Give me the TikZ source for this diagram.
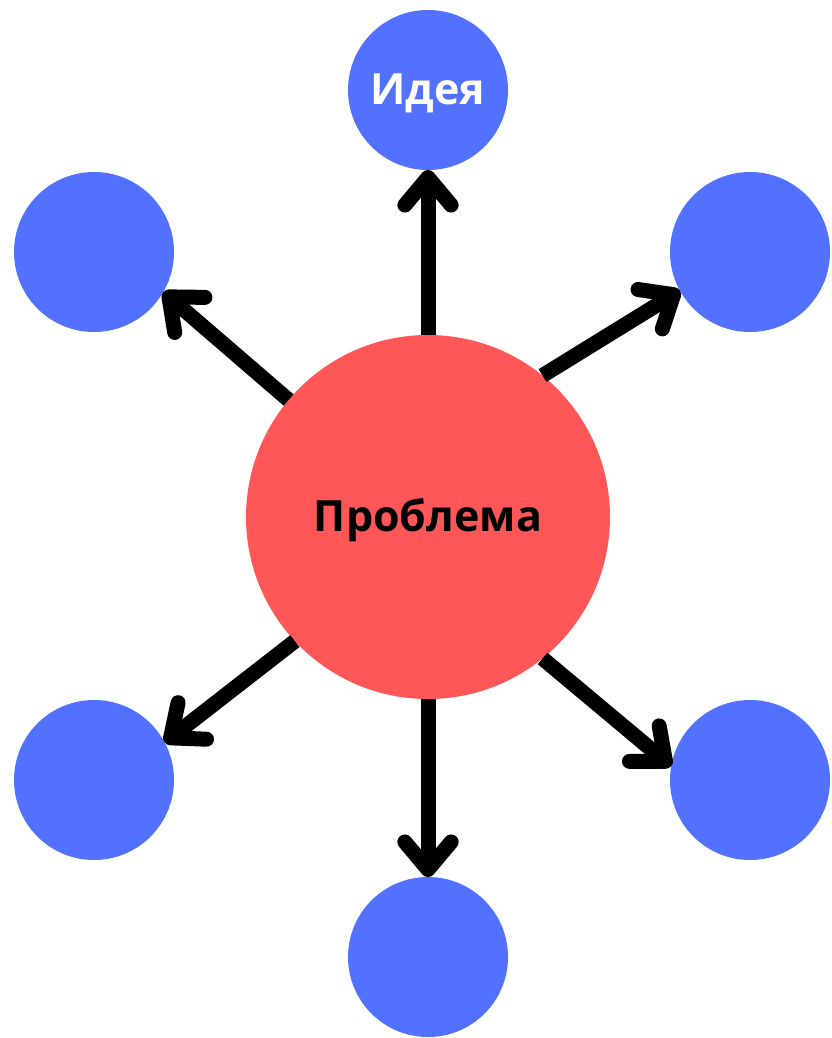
\documentclass[tikz,border=0pt]{standalone}
\usepackage{fontspec}
\setmainfont{Open Sans}
\usetikzlibrary{calc}
\definecolor{cblue}{HTML}{5271FF}
\definecolor{cred}{HTML}{FF5757}
\tikzset{
  bluecirc/.style={circle,fill=cblue,minimum size=160pt,inner sep=0pt,outer sep=0pt},
  redcirc/.style={circle,fill=cred,minimum size=364pt,inner sep=0pt,outer sep=0pt},
  shaft/.style={line width=15pt,black,line cap=butt},
  barb/.style={line width=15pt,black,line cap=round,line join=round},
  lbl/.style={font=\fontsize{43}{47}\selectfont\bfseries}
}
\newcommand\myarrow[2]{%
  \draw[shaft] (#1) -- ($(#2)!7.5pt!(#1)$);
  \draw[barb] ($($(#2)!7.5pt!(#1)$)!36pt!40:(#1)$) -- ($(#2)!7.5pt!(#1)$) -- ($($(#2)!7.5pt!(#1)$)!36pt!-40:(#1)$);
}
\begin{document}
\begin{tikzpicture}[x=1pt,y=-1pt]
\useasboundingbox[fill=white] (0,0) rectangle (831,1038);
\node[redcirc] (P) at (428,517) {};
\node[bluecirc] (B1) at (428,90) {};
\node[bluecirc] (B2) at (94,252) {};
\node[bluecirc] (B3) at (750,252) {};
\node[bluecirc] (B4) at (94,780) {};
\node[bluecirc] (B5) at (750,780) {};
\node[bluecirc] (B6) at (428,957) {};
\node[lbl,text=white] (t1) at (428,93) {Идея};
\node[lbl,text=black] (t2) at (428,520) {Проблема};
\myarrow{P.90}{B1.270}
\myarrow{P.140}{B2.330}
\myarrow{P.51}{B3.209}
\myarrow{P.223}{B4.28}
\myarrow{P.309}{B5.170}
\myarrow{P.270}{B6.90}
\end{tikzpicture}
\end{document}
